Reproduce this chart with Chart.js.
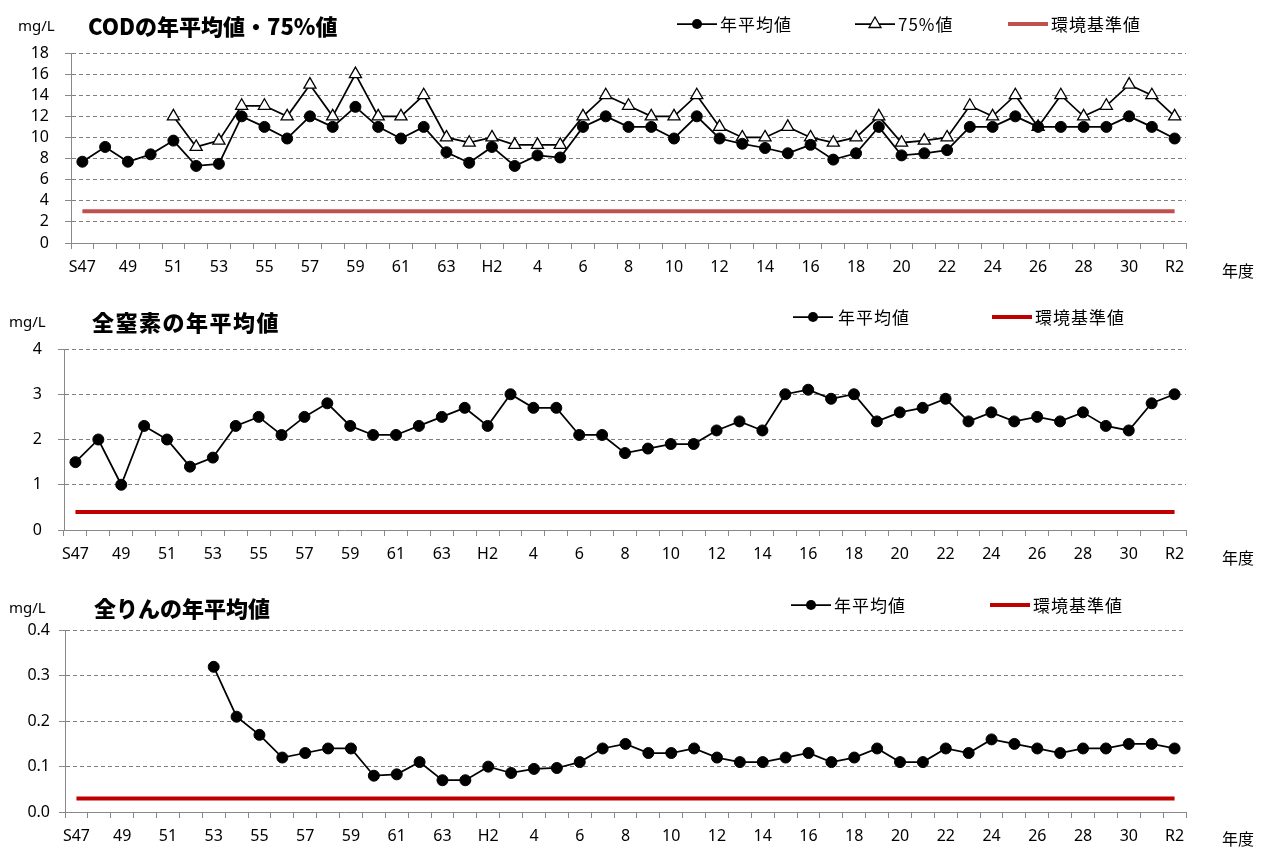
<!DOCTYPE html>
<html lang="ja">
<head>
<meta charset="utf-8">
<title>COD・全窒素・全りんの年平均値</title>
<script src="https://cdn.jsdelivr.net/npm/chart.js@4.4.1/dist/chart.umd.min.js"></script>
<style>
  html, body { margin: 0; padding: 0; background: #fff; }
  body { width: 1265px; height: 848px; position: relative; overflow: hidden;
         font-family: 'Noto Sans CJK JP', 'Noto Sans', sans-serif; color: #000; }
  .panel { position: absolute; left: 0; width: 1265px; }
  .txt { position: absolute; white-space: nowrap; line-height: 20px; }
  .unit { font-family: 'Noto Sans', sans-serif; font-size: 15px; }
  .title { font-size: 22px; font-weight: 900; line-height: 30px; }
  .leg { font-size: 17px; letter-spacing: 1px; }
  .nendo { font-size: 16px; }
  svg.sym { position: absolute; overflow: visible; }
</style>
</head>
<body>

<canvas id="codChart" class="panel" style="top:0px"></canvas>
<canvas id="tnChart" class="panel" style="top:290px"></canvas>
<canvas id="tpChart" class="panel" style="top:575px"></canvas>

<div class="txt unit" style="left:18px; top:15px">mg/L</div>
<div class="txt title" style="left:88px; top:10px">CODの年平均値・75%値</div>
<div class="txt nendo" style="left:1222px; top:260px">年度</div>

<div class="txt unit" style="left:9px; top:311px">mg/L</div>
<div class="txt title" style="left:92px; top:306px; letter-spacing:1.5px">全窒素の年平均値</div>
<div class="txt nendo" style="left:1222px; top:547px">年度</div>

<div class="txt unit" style="left:9px; top:597px">mg/L</div>
<div class="txt title" style="left:94px; top:592px">全りんの年平均値</div>
<div class="txt nendo" style="left:1222px; top:828px">年度</div>

<div id="legends"></div>

<script>
// fiscal years S47 .. R2
const years = ['S47', '48', '49', '50', '51', '52', '53', '54', '55', '56',
               '57', '58', '59', '60', '61', '62', '63', 'H1', 'H2', '3',
               '4', '5', '6', '7', '8', '9', '10', '11', '12', '13',
               '14', '15', '16', '17', '18', '19', '20', '21', '22', '23',
               '24', '25', '26', '27', '28', '29', '30', 'R1', 'R2'];

// COD (mg/L)
const codMean = [7.7, 9.1, 7.7, 8.4, 9.7, 7.3, 7.5, 12, 11, 9.9,
                 12, 11, 12.9, 11, 9.9, 11, 8.6, 7.6, 9.1, 7.3,
                 8.3, 8.1, 11, 12, 11, 11, 9.9, 12, 9.9, 9.4,
                 9.0, 8.5, 9.3, 7.9, 8.5, 11, 8.3, 8.5, 8.8, 11,
                 11, 12, 11, 11, 11, 11, 12, 11, 9.9];
const cod75 = [null, null, null, null, 12, 9.1, 9.7, 13, 13, 12,
               15, 12, 16, 12, 12, 14, 10, 9.5, 10, 9.3,
               9.3, 9.3, 12, 14, 13, 12, 12, 14, 11, 10,
               10, 11, 10, 9.5, 10, 12, 9.5, 9.7, 10, 13,
               12, 14, 11, 14, 12, 13, 15, 14, 12];
const codStandard = 3;

// total nitrogen (mg/L)
const tnMean = [1.5, 2.0, 1.0, 2.3, 2.0, 1.4, 1.6, 2.3, 2.5, 2.1,
                2.5, 2.8, 2.3, 2.1, 2.1, 2.3, 2.5, 2.7, 2.3, 3.0,
                2.7, 2.7, 2.1, 2.1, 1.7, 1.8, 1.9, 1.9, 2.2, 2.4,
                2.2, 3.0, 3.1, 2.9, 3.0, 2.4, 2.6, 2.7, 2.9, 2.4,
                2.6, 2.4, 2.5, 2.4, 2.6, 2.3, 2.2, 2.8, 3.0];
const tnStandard = 0.4;

// total phosphorus (mg/L)
const tpMean = [null, null, null, null, null, null, 0.32, 0.21, 0.17, 0.12,
                0.13, 0.14, 0.14, 0.08, 0.083, 0.11, 0.07, 0.07, 0.10, 0.086,
                0.095, 0.097, 0.11, 0.14, 0.15, 0.13, 0.13, 0.14, 0.12, 0.11,
                0.11, 0.12, 0.13, 0.11, 0.12, 0.14, 0.11, 0.11, 0.14, 0.13,
                0.16, 0.15, 0.14, 0.13, 0.14, 0.14, 0.15, 0.15, 0.14];
const tpStandard = 0.03;

const tickFont = { family: "'Noto Sans', sans-serif", size: 16 };
// line height 1 so the dense COD axis keeps every step of 2
const yTickFont = { family: "'Noto Sans', sans-serif", size: 16, lineHeight: 1 };

function meanDataset(label, values) {
    return {
        label: label,
        data: values,
        borderColor: '#000',
        borderWidth: 1.75,
        pointStyle: 'circle',
        pointRadius: 5.5,
        pointBackgroundColor: '#000',
        pointBorderColor: '#000',
        pointBorderWidth: 1,
        tension: 0
    };
}

function standardDataset(value, color) {
    // a flat line from the first year to the last one
    return {
        label: '環境基準値',
        data: [{ x: years[0], y: value }, { x: years[years.length - 1], y: value }],
        borderColor: color,
        borderWidth: 4,
        pointRadius: 0,
        order: 5
    };
}

function makeChart(canvasId, box, datasets, yAxis) {
    const canvas = document.getElementById(canvasId);
    canvas.width = 1265;
    canvas.height = box.height;
    return new Chart(canvas.getContext('2d'), {
        type: 'line',
        data: { labels: years, datasets: datasets },
        options: {
            responsive: false,
            animation: false,
            layout: { padding: { top: box.top, right: 1265 - box.right, left: 0, bottom: 0 } },
            plugins: { legend: { display: false }, tooltip: { enabled: false } },
            scales: {
                x: {
                    offset: true,
                    grid: { offset: true, drawOnChartArea: false, drawTicks: true, tickLength: 6, color: '#888' },
                    border: { color: '#888' },
                    ticks: {
                        autoSkip: false, maxRotation: 0, minRotation: 0, padding: 9,
                        color: '#000', font: tickFont,
                        callback: (value, index) => index % 2 === 0 ? years[index] : ''
                    },
                    afterFit: (scale) => { scale.height = box.height - box.bottom; }
                },
                y: {
                    min: yAxis.min,
                    max: yAxis.max,
                    ticks: {
                        stepSize: yAxis.step, autoSkip: false, padding: box.yPad, color: '#000', font: yTickFont,
                        callback: (value) => yAxis.digits ? value.toFixed(yAxis.digits) : value
                    },
                    grid: { color: '#7f7f7f', tickLength: 6, tickColor: '#888', tickBorderDash: [] },
                    border: { color: '#888', dash: [4, 3] },
                    afterFit: (scale) => { scale.width = box.left; }
                }
            }
        }
    });
}

makeChart('codChart',
    { height: 290, left: 71, right: 1186, top: 53, bottom: 243, yPad: 16 },
    [
        meanDataset('年平均値', codMean),
        {
            label: '75%値',
            data: cod75,
            borderColor: '#000',
            borderWidth: 1.75,
            pointStyle: 'triangle',
            pointRadius: 7,
            pointBackgroundColor: '#fff',
            pointBorderColor: '#000',
            pointBorderWidth: 1.3,
            tension: 0
        },
        standardDataset(codStandard, '#C0504D')
    ],
    { min: 0, max: 18, step: 2, digits: 0 });

makeChart('tnChart',
    { height: 285, left: 64, right: 1186, top: 59, bottom: 240, yPad: 16 },
    [meanDataset('年平均値', tnMean), standardDataset(tnStandard, '#C00000')],
    { min: 0, max: 4, step: 1, digits: 0 });

makeChart('tpChart',
    { height: 273, left: 65, right: 1186, top: 55.5, bottom: 237, yPad: 9 },
    [meanDataset('年平均値', tpMean), standardDataset(tpStandard, '#C00000')],
    { min: 0, max: 0.4, step: 0.1, digits: 1 });

// legends (html, positioned like the original)
function legendItem(lineX, y, kind, text, textX) {
    let sym = '';
    if (kind === 'circle') {
        sym = '<line x1="0" y1="8" x2="40" y2="8" stroke="#000" stroke-width="1.75"/>' +
              '<circle cx="20" cy="8" r="5" fill="#000"/>';
    } else if (kind === 'triangle') {
        sym = '<line x1="0" y1="8" x2="40" y2="8" stroke="#000" stroke-width="1.75"/>' +
              '<polygon points="20,1 26,11.5 14,11.5" fill="#fff" stroke="#000" stroke-width="1.3"/>';
    } else {
        sym = '<line x1="0" y1="8" x2="40" y2="8" stroke="' + kind + '" stroke-width="4"/>';
    }
    return '<svg class="sym" width="40" height="16" style="left:' + lineX + 'px; top:' + (y - 8) + 'px">' + sym + '</svg>' +
           '<div class="txt leg" style="left:' + textX + 'px; top:' + (y - 10) + 'px">' + text + '</div>';
}

document.getElementById('legends').innerHTML =
    legendItem(677, 24, 'circle', '年平均値', 720) +
    legendItem(855, 24, 'triangle', '75%値', 898) +
    legendItem(1008, 24, '#C0504D', '環境基準値', 1051) +
    legendItem(793, 317, 'circle', '年平均値', 838) +
    legendItem(992, 317, '#C00000', '環境基準値', 1035) +
    legendItem(791, 605, 'circle', '年平均値', 834) +
    legendItem(990, 605, '#C00000', '環境基準値', 1033);
</script>
</body>
</html>
